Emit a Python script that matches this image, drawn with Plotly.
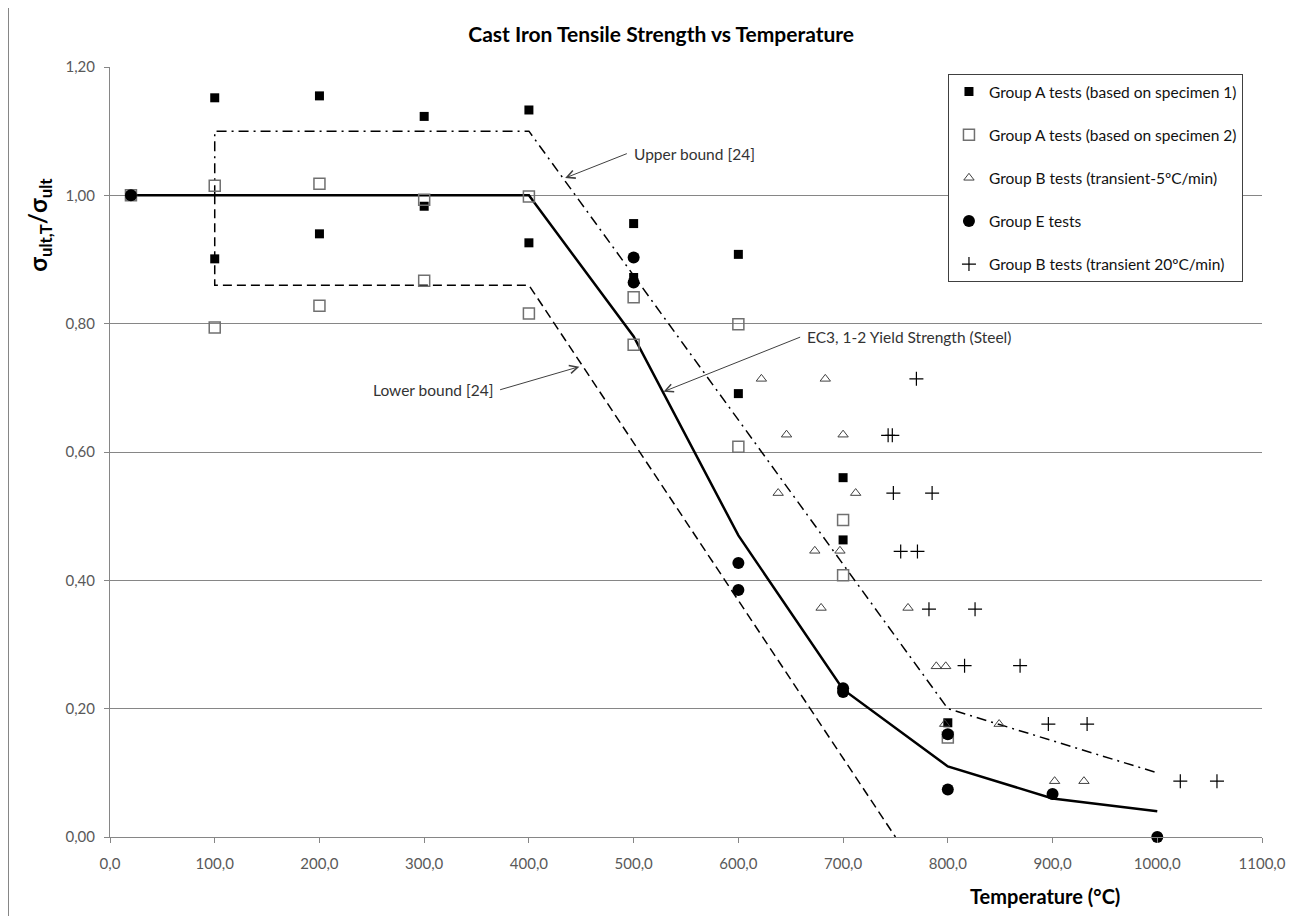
#!/usr/bin/env python3
# -*- coding: utf-8 -*-

import plotly.graph_objects as go

# EC3 steel yield strength reduction (reference curve)
ec3_temp = [20, 100, 200, 300, 400, 500, 600, 700, 800, 900, 1000]
ec3_ratio = [1.0, 1.0, 1.0, 1.0, 1.0, 0.78, 0.47, 0.23, 0.11, 0.06, 0.04]

# bounds from [24]
upper_temp = [100, 100, 400, 800, 1000]
upper_ratio = [1.0, 1.10, 1.10, 0.20, 0.10]
lower_temp = [100, 100, 400, 750]
lower_ratio = [1.0, 0.86, 0.86, 0.0]

# test results
spec1_temp = [20, 100, 100, 200, 200, 300, 300, 400, 400, 500, 500,
              600, 600, 700, 700, 800, 800]
spec1_ratio = [1.0, 1.152, 0.901, 1.155, 0.940, 1.123, 0.983, 1.133, 0.926,
               0.956, 0.872, 0.908, 0.691, 0.560, 0.463, 0.178, 0.160]

spec2_temp = [20, 100, 100, 200, 200, 300, 300, 400, 400, 500, 500,
              600, 600, 700, 700, 800]
spec2_ratio = [1.0, 1.015, 0.794, 1.018, 0.828, 0.993, 0.867, 0.998, 0.816,
               0.841, 0.767, 0.799, 0.608, 0.494, 0.408, 0.155]

groupb5_temp = [622, 683, 646, 700, 638, 712, 673, 697, 679, 762,
                789, 798, 797, 849, 902, 930]
groupb5_ratio = [0.714, 0.714, 0.627, 0.627, 0.536, 0.536, 0.446, 0.446,
                 0.357, 0.357, 0.266, 0.266, 0.176, 0.176, 0.087, 0.087]

groupe_temp = [20, 500, 500, 600, 600, 700, 700, 800, 800, 900, 1000]
groupe_ratio = [1.0, 0.903, 0.864, 0.427, 0.385, 0.232, 0.226, 0.160,
                0.074, 0.067, 0.0]

groupb20_temp = [770, 743, 747, 748, 785, 755, 771, 782, 826, 816, 869,
                 896, 933, 1022, 1057]
groupb20_ratio = [0.714, 0.626, 0.626, 0.536, 0.536, 0.445, 0.445, 0.355,
                  0.355, 0.267, 0.267, 0.176, 0.176, 0.087, 0.087]

FONT = "Lato, 'Open Sans', sans-serif"
GRID = "#868686"

fig = go.Figure()

# reference lines
fig.add_trace(go.Scatter(x=upper_temp, y=upper_ratio, mode="lines",
                         line=dict(color="black", width=1.5,
                                   dash="10px,5px,2px,5px"),
                         showlegend=False, hoverinfo="skip"))
fig.add_trace(go.Scatter(x=lower_temp, y=lower_ratio, mode="lines",
                         line=dict(color="black", width=1.5, dash="9px,5px"),
                         showlegend=False, hoverinfo="skip"))
fig.add_trace(go.Scatter(x=ec3_temp, y=ec3_ratio, mode="lines",
                         line=dict(color="black", width=2.5),
                         showlegend=False, hoverinfo="skip"))

# test series
fig.add_trace(go.Scatter(
    x=spec1_temp, y=spec1_ratio, mode="markers",
    name="Group A tests (based on specimen 1)", legendgroup="a1",
    marker=dict(symbol="square", size=9, color="black"),
    cliponaxis=False))
fig.add_trace(go.Scatter(
    x=spec2_temp, y=spec2_ratio, mode="markers",
    name="Group A tests (based on specimen 2)", legendgroup="a2",
    marker=dict(symbol="square-open", size=11, color="#707070",
                line=dict(width=1.5)),
    cliponaxis=False))
fig.add_trace(go.Scatter(
    x=groupb5_temp, y=groupb5_ratio, mode="markers",
    name="Group B tests (transient-5ºC/min)", legendgroup="b5",
    marker=dict(symbol="triangle-up-open", size=9, color="#404040",
                line=dict(width=1)),
    cliponaxis=False))
fig.add_trace(go.Scatter(
    x=groupe_temp, y=groupe_ratio, mode="markers",
    name="Group E tests", legendgroup="e",
    marker=dict(symbol="circle", size=12, color="black"),
    cliponaxis=False))
fig.add_trace(go.Scatter(
    x=groupb20_temp, y=groupb20_ratio, mode="markers",
    name="Group B tests (transient 20ºC/min)", legendgroup="b20",
    marker=dict(symbol="cross-thin-open", size=10, color="black",
                line=dict(width=1.2)),
    cliponaxis=False))

# callouts: the label box sits at the arrow tail
callouts = [
    # tip x, tip y, tail x, tail y, text, text anchor
    (434.6, 1.027, 493.5, 1.065, "Upper bound [24]", "left"),
    (528.5, 0.694, 659.0, 0.779, "EC3, 1-2 Yield Strength (Steel)", "left"),
    (448.2, 0.733, 372.5, 0.697, "Lower bound [24]", "right"),
]
for tip_x, tip_y, tail_x, tail_y, text, anchor in callouts:
    fig.add_annotation(x=tip_x, y=tip_y, ax=tail_x, ay=tail_y,
                       axref="x", ayref="y", text=text, showarrow=True,
                       xanchor=anchor, yanchor="middle", borderpad=6,
                       arrowhead=5, arrowsize=1.6, arrowwidth=1,
                       arrowcolor="#404040",
                       font=dict(family=FONT, size=15.5, color="#333333"))

# axis titles
fig.add_annotation(xref="paper", yref="paper", x=-0.0608, y=0.795,
                   xanchor="center", yanchor="middle",
                   text="<b>σ<sub>ult,T</sub>/σ<sub>ult</sub></b>",
                   textangle=-90, showarrow=False,
                   font=dict(family=FONT, size=24, color="black"))
fig.add_annotation(xref="paper", yref="paper", x=0.8116, y=-0.0766,
                   xanchor="center", yanchor="middle",
                   text="<b>Temperature (°C)</b>", showarrow=False,
                   font=dict(family=FONT, size=20, color="black"))

# outer chart frame
fig.add_shape(type="rect", xref="paper", yref="paper",
              x0=-0.0881, x1=1.0304, y0=-0.12, y1=1.1,
              line=dict(color="#868686", width=1), layer="below")

fig.update_layout(
    width=1296, height=908,
    margin=dict(l=102, r=42, t=59, b=79),
    paper_bgcolor="white", plot_bgcolor="white",
    separators=", ",
    font=dict(family=FONT, size=15, color="#595959"),
    title=dict(text="<b>Cast Iron Tensile Strength vs Temperature</b>",
               x=0.504, xanchor="center", y=0.9703, yanchor="middle",
               font=dict(family=FONT, size=21, color="black")),
    legend=dict(x=0.7274, y=0.991, xanchor="left", yanchor="top",
                bgcolor="white", bordercolor="#404040", borderwidth=1,
                font=dict(family=FONT, size=15.5, color="#111111"),
                tracegroupgap=20, traceorder="grouped"),
    xaxis=dict(range=[0, 1100], tick0=0, dtick=100, tickformat=".1f",
               ticks="outside", ticklen=5, tickcolor=GRID,
               showline=True, linecolor=GRID, showgrid=False,
               zeroline=False, ticklabelstandoff=8),
    yaxis=dict(range=[0, 1.2], tick0=0, dtick=0.2, tickformat=".2f",
               ticks="outside", ticklen=5, tickcolor=GRID,
               showline=True, linecolor=GRID, showgrid=True,
               gridcolor=GRID, gridwidth=1, zeroline=False,
               ticklabelstandoff=6),
)

fig.write_html("out.html")
